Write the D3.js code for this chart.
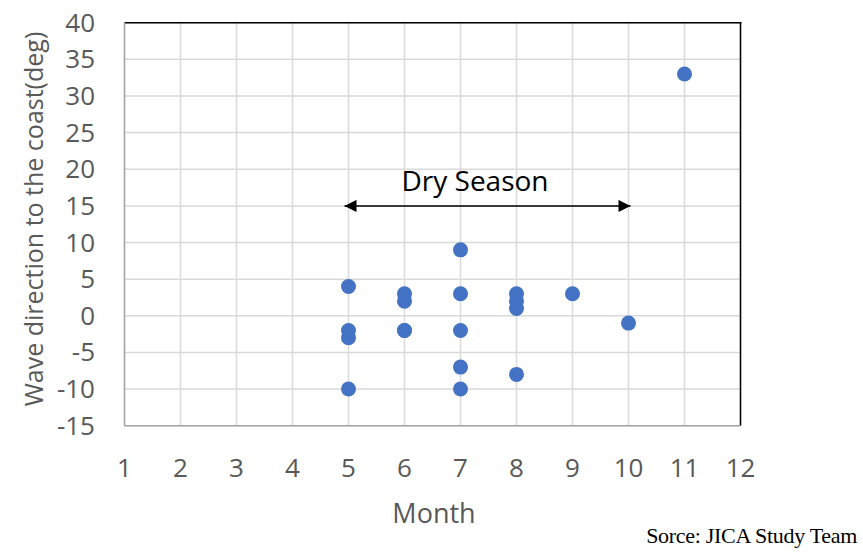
<!DOCTYPE html>
<html>
<head>
<meta charset="utf-8">
<script src="https://cdn.jsdelivr.net/npm/d3@7"></script>
<style>
  body { margin: 0; background: #fff; }
  svg text { font-family: "Open Sans", sans-serif; }
</style>
</head>
<body>
<svg id="chart" width="863" height="552"></svg>
<script>
// Wave direction readings, by month.
var months = [5, 5, 5, 5, 6, 6, 6, 6, 7, 7, 7, 7, 7, 8, 8, 8, 8, 9, 10, 11];
var directions = [4, -2, -3, -10, 3, 2, -2, -2, 9, 3, -2, -7, -10, 3, 2, 1, -8, 3, -1, 33];

var xTicks = [1, 2, 3, 4, 5, 6, 7, 8, 9, 10, 11, 12];
var yTicks = [-15, -10, -5, 0, 5, 10, 15, 20, 25, 30, 35, 40];

// Dry season arrow: from month, to month, at direction.
var drySeason = { from: 5, to: 10, at: 15, label: "Dry Season" };

// plot area edges (window.top is read-only, so no plain "top")
var pLeft = 124.5, pRight = 740.5, pTop = 22.7, pBottom = 425.7;

var svg = d3.select("#chart");

var x = d3.scaleLinear().domain([1, 12]).range([pLeft, pRight]);
var y = d3.scaleLinear().domain([-15, 40]).range([pBottom, pTop]);

// grid
svg.append("g").selectAll("line")
  .data(xTicks)
  .enter().append("line")
  .attr("x1", function(d) { return x(d); })
  .attr("x2", function(d) { return x(d); })
  .attr("y1", pTop).attr("y2", pBottom)
  .attr("stroke", "#d9d9d9").attr("stroke-width", 1.5);

svg.append("g").selectAll("line")
  .data(yTicks)
  .enter().append("line")
  .attr("x1", pLeft).attr("x2", pRight)
  .attr("y1", function(d) { return y(d); })
  .attr("y2", function(d) { return y(d); })
  .attr("stroke", "#d9d9d9").attr("stroke-width", 1.5);

// border: top and right black, axes grey
svg.append("line").attr("x1", pLeft).attr("x2", pRight + 1).attr("y1", pTop).attr("y2", pTop)
  .attr("stroke", "#000").attr("stroke-width", 1.5);
svg.append("line").attr("x1", pRight).attr("x2", pRight).attr("y1", pTop).attr("y2", pBottom)
  .attr("stroke", "#000").attr("stroke-width", 1.5);
svg.append("line").attr("x1", pLeft).attr("x2", pLeft).attr("y1", pTop).attr("y2", pBottom)
  .attr("stroke", "#a6a6a6").attr("stroke-width", 1.5);
svg.append("line").attr("x1", pLeft).attr("x2", pRight).attr("y1", pBottom).attr("y2", pBottom)
  .attr("stroke", "#a6a6a6").attr("stroke-width", 1.5);

// tick labels
svg.append("g").selectAll("text")
  .data(yTicks)
  .enter().append("text")
  .attr("x", 95)
  .attr("y", function(d) { return y(d) + 9; })
  .attr("text-anchor", "end")
  .attr("font-size", 26)
  .attr("fill", "#595959")
  .text(function(d) { return d; });

svg.append("g").selectAll("text")
  .data(xTicks)
  .enter().append("text")
  .attr("x", function(d) { return x(d); })
  .attr("y", 477)
  .attr("text-anchor", "middle")
  .attr("font-size", 26)
  .attr("fill", "#595959")
  .text(function(d) { return d; });

// axis titles
svg.append("text")
  .attr("transform", "translate(43,219) rotate(-90)")
  .attr("text-anchor", "middle")
  .attr("font-size", 25)
  .attr("fill", "#595959")
  .text("Wave direction to the coast(deg)");

svg.append("text")
  .attr("x", 434)
  .attr("y", 523)
  .attr("text-anchor", "middle")
  .attr("font-size", 27)
  .attr("fill", "#595959")
  .text("Month");

// dry season arrow
var defs = svg.append("defs");
defs.append("marker")
  .attr("id", "head")
  .attr("viewBox", "0 0 10 10")
  .attr("refX", 10).attr("refY", 5)
  .attr("markerWidth", 15).attr("markerHeight", 12)
  .attr("markerUnits", "userSpaceOnUse")
  .attr("orient", "auto-start-reverse")
  .append("path")
  .attr("d", "M0,0L10,5L0,10Z")
  .attr("fill", "#000");

svg.append("line")
  .attr("x1", x(drySeason.from) - 4).attr("x2", x(drySeason.to) + 2)
  .attr("y1", y(drySeason.at)).attr("y2", y(drySeason.at))
  .attr("stroke", "#000").attr("stroke-width", 1.5)
  .attr("marker-start", "url(#head)")
  .attr("marker-end", "url(#head)");

svg.append("text")
  .attr("x", 475)
  .attr("y", 191)
  .attr("text-anchor", "middle")
  .attr("font-size", 28)
  .attr("fill", "#000")
  .text(drySeason.label);

// points
svg.append("g").selectAll("circle")
  .data(months)
  .enter().append("circle")
  .attr("cx", function(d) { return x(d); })
  .attr("cy", function(d, i) { return y(directions[i]); })
  .attr("r", 7.5)
  .attr("fill", "#4472c4");

// source note
svg.append("text")
  .attr("x", 857)
  .attr("y", 543)
  .attr("text-anchor", "end")
  .attr("font-size", 22)
  .attr("letter-spacing", -0.3)
  .style("font-family", "'Liberation Serif', serif")
  .attr("fill", "#000")
  .text("Sorce: JICA Study Team");
</script>
</body>
</html>
